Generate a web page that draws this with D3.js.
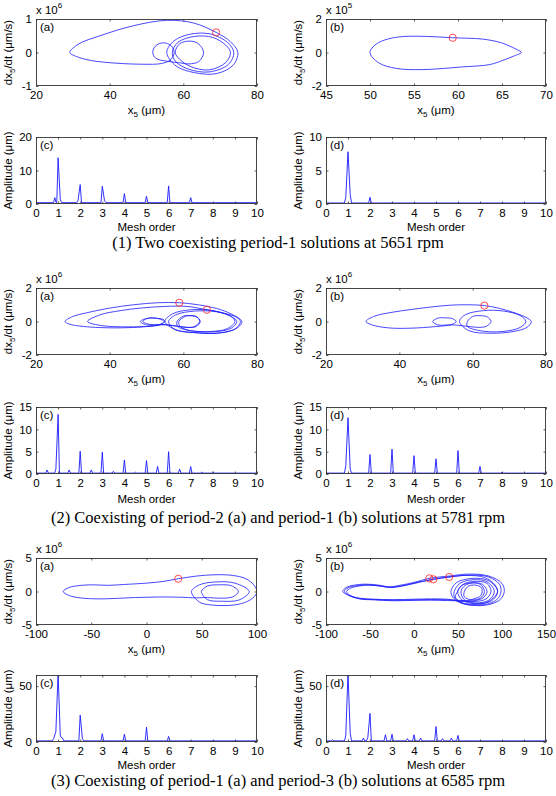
<!DOCTYPE html>
<html><head><meta charset="utf-8">
<script src="https://cdn.jsdelivr.net/npm/d3@7"></script>
<style>body{margin:0;background:#fff;}svg{display:block;}</style>
</head><body><svg id="c" width="556" height="796"></svg>
<script>
// ================= DATA =================
// Phase trajectories: [x5 (um), dx5/dt (in units of the exponent shown)]
const phase1a = [[29.2,0],[31.5,0.25],[37.4,0.5],[46.5,0.8],[55.5,0.96],[62.8,0.88],[68.9,0.6],[72.8,0.32],[74.8,0],[73.5,-0.38],[69,-0.63],[63,-0.6],[58,-0.4],
 [55.5,0],[57.5,0.35],[62,0.55],[67.5,0.55],[72,0.3],[73.7,0],[72.2,-0.36],[67,-0.58],[61.5,-0.5],[58,-0.28],
 [57,0],[58.5,0.3],[63,0.48],[68,0.45],[71.5,0.22],[72.8,0],[71.5,-0.3],[67,-0.52],[62,-0.42],[59,-0.2],
 [57.8,0],[59,0.26],[61.6,0.34],[64,0.27],[65.5,0],[64.2,-0.27],[61.5,-0.34],[58.5,-0.3],
 [55.5,-0.26],[52.5,-0.17],[51.7,0],[52.5,0.2],[54.6,0.29],[56.7,0.2],[57.5,0],[56.5,-0.22],[54,-0.33],
 [49,-0.35],[42,-0.32],[35,-0.24],[31,-0.12]];
const marks1a = [[68.9,0.6]];

const phase1b = [[50.0,0],[50.7,0.5],[52,0.8],[53.7,0.95],[56.4,0.96],[59.4,0.88],[62.8,0.8],[64.8,0.6],[65.8,0.4],[66.6,0.2],[67.2,0],[66.4,-0.2],[65.2,-0.45],[63.6,-0.72],[60.5,-0.86],[56,-1.02],[53,-0.95],[51,-0.62]];
const marks1b = [[59.4,0.88]];

const phase2a = [[27.9,0],[30,0.3],[33.8,0.52],[40,0.8],[46.5,1.0],[53,1.12],[58.9,1.12],[64,1.0],[69,0.78],[73,0.45],[75.9,0],[74.5,-0.4],[70,-0.68],[64,-0.68],[58,-0.5],
 [55,0],[57,0.45],[62,0.7],[68,0.65],[72.5,0.35],[74.5,0],[73,-0.4],[68,-0.62],[62,-0.55],[58.5,-0.3],
 [58.3,0],[60,0.32],[61.5,0.36],[63.5,0.3],[64.6,0],[63.5,-0.3],[61.5,-0.36],[59,-0.3],
 [55,-0.2],[50,-0.2],[48.3,0],[50,0.18],[52,0.2],[54.6,0.12],[55,0],[54,-0.15],[51,-0.28],
 [45,-0.32],[38,-0.25],[34,0],
 [37.4,0.4],[43,0.65],[48.3,0.8],[55,0.9],[61,0.9],[66.4,0.7],[71,0.5],[74.5,0.25],[75.5,0],[74,-0.45],[69,-0.7],[63,-0.66],[57.5,-0.45],
 [56,0],[58,0.4],[63,0.62],[69,0.58],[73,0.3],[74,0],[72,-0.42],[67,-0.6],[61,-0.5],[59,-0.25],
 [58.8,0],[60.5,0.3],[62,0.34],[63.8,0.25],[64.4,0],[63,-0.3],[61,-0.35],[59,-0.3],
 [55,-0.18],[51,-0.18],[49,0],[50.5,0.2],[53,0.18],[54.8,0],[53.5,-0.2],[50,-0.3],
 [42,-0.38],[33,-0.3],[29,-0.15]];
const marks2a = [[58.9,1.12],[66.4,0.7]];

const phase2b = [[30.9,0],[33,0.3],[38,0.55],[42.7,0.7],[48,0.85],[53.6,0.97],[58,1.0],[63.2,0.95],[67,0.8],[71,0.55],[74.5,0.25],[76,0],[74.8,-0.35],[71,-0.6],[65,-0.7],[59,-0.55],
 [56.4,0],[58,0.4],[63,0.65],[68.5,0.62],[73,0.35],[74.5,0],[73,-0.35],[68,-0.6],[62,-0.55],[58.5,-0.28],
 [58.6,0],[60,0.3],[62,0.35],[64,0.27],[65,0],[63.8,-0.28],[61.8,-0.35],[59,-0.3],
 [54.5,-0.2],[50.5,-0.2],[49.1,0],[50.5,0.2],[52.3,0.22],[54.5,0.17],[55.5,0],[54.3,-0.18],[50,-0.3],
 [43,-0.4],[37,-0.38],[32.5,-0.2]];
const marks2b = [[63.2,0.95]];

const phase3a = [[-75.4,0],[-70,0.6],[-60,0.9],[-49,1.0],[-35,0.92],[-20,1.05],[0,1.25],[15,1.5],[28.7,1.9],[45,2.3],[62,2.5],[78,2.4],[90,1.9],[97,1.0],[100,0],[96,-1.0],[86,-1.8],[72,-2.1],[58,-2.0],[48,-1.6],
 [40.7,0],[48,1.0],[62,1.42],[80,1.25],[93,0],[84,-1.25],[68,-1.45],[55,-1.2],
 [49.7,0],[55,0.8],[66,1.0],[77,0.85],[83.2,0],[78,-0.8],[66,-1.0],[55,-0.9],
 [45,-0.95],[30,-0.85],[10,-0.82],[-10,-0.9],[-30,-1.05],[-45,-1.1],[-60,-0.95],[-70,-0.6]];
const marks3a = [[28.7,1.9]];

const phase3b = [[-81,0],[-77,0.6],[-68,0.95],[-55,1.1],[-40,0.95],[-28,0.7],[-15,0.95],[0,1.35],[17.4,1.97],[40,2.3],[62,2.6],[85,2.3],[100,1.2],[102.6,0],[98,-1.2],[85,-1.95],[70,-2.1],[55,-1.8],[45,-1.0],
 [42,0],[48,1.3],[66,1.95],[85,1.6],[95,0],[88,-1.4],[70,-1.8],[55,-1.3],[49.6,0],[56,1.05],[68,1.5],[83,1.2],[87.5,0],[82,-1.1],[68,-1.5],[55,-1.35],
 [40,-1.25],[20,-1.2],[0,-1.25],[-24,-1.3],[-45,-1.2],[-62,-1.06],[-74,-0.6],
 [-79,0],[-75,0.55],[-66,0.85],[-54,1.0],[-40,0.85],[-27,0.62],[-12,0.9],[5,1.4],[22,1.82],[42,2.2],[63,2.45],[84,2.2],[97,1.1],[98.9,0],[95,-1.1],[84,-1.85],[68,-2.0],[54,-1.7],[46,-0.9],
 [45.8,0],[52,1.2],[67,1.75],[83,1.45],[91.3,0],[85,-1.3],[69,-1.7],[57,-1.2],[53.4,0],[58,0.9],[68,1.3],[78,1.05],[83,0],[78,-1.0],[66,-1.4],[54,-1.4],
 [38,-1.35],[20,-1.3],[0,-1.32],[-24,-1.38],[-45,-1.25],[-62,-1.1],[-73,-0.55],
 [-76.5,0],[-72,0.5],[-63,0.8],[-52,0.95],[-38,0.8],[-26,0.6],[-8,0.95],[10,1.5],[28,1.95],[40,2.17],[60,2.4],[80,2.1],[92,1.0],[95,0],[90,-1.0],[80,-1.75],[66,-1.9],[53,-1.6],[47,-0.8],
 [49.6,0],[54,0.9],[66,1.3],[76,1.0],[80,0],[76,-0.95],[66,-1.25],[57.2,-0.8],[57.2,0],[62,0.8],[70,0.95],[77,0.5],[76,-0.6],[68,-1.1],[56,-1.5],
 [38,-1.15],[20,-1.1],[0,-1.15],[-24,-1.22],[-45,-1.15],[-62,-1.0],[-75,-0.5]];
const marks3b = [[17.4,1.97],[22,1.82],[40,2.17]];

// Spectra: peaks [mesh order, amplitude (um)] and baseline level
const spec1c = [[0.85,1.9],[1,13.8],[1.1,1.3],[1.9,1.0],[2,5.8],[3,5.3],[3.1,1.0],[4,3.1],[5,2.3],[6,5.4],[7,1.9],[8,0.4]];
const base1c = 0.4;
const spec1d = [[0.9,1.0],[1,7.8],[1.1,1.4],[2,1.0],[3,0.2]];
const base1d = 0.15;
const spec2c = [[0.5,0.9],[0.9,1.1],[1,13.35],[1.5,0.9],[2,5.1],[2.5,0.9],[3,4.9],[3.5,0.6],[4,3.15],[4.5,0.4],[5,3.0],[5.5,1.7],[6,5.0],[6.5,1.1],[7,1.65],[7.5,0.4],[8,0.45]];
const base2c = 0.2;
const spec2d = [[0.9,1.9],[1,12.6],[1.1,1.1],[2,4.35],[3,5.55],[4,4.1],[5,3.4],[6,5.25],[7,1.7],[8,0.4]];
const base2d = 0.2;
const spec3c = [[0.8,3],[0.9,9.4],[1,62],[1.1,5],[1.2,3.5],[2,24],[2.1,3],[3,7.4],[4,7],[5,13.2],[6,5]];
const base3c = 1.0;
const spec3d = [[0.3,2],[0.9,5.9],[1,62],[1.1,8],[1.7,3.5],[1.9,4],[2,25.6],[2.7,6.5],[3,7],[3.7,3],[4,6.5],[4.3,3.5],[5,13.8],[5.3,3],[5.7,3.5],[6,5.9],[6.3,1.2]];
const base3d = 1.0;

// Tick values
const meshTicks = [0,1,2,3,4,5,6,7,8,9,10];
const xTicks1a = [20,40,60,80], yTicks1a = [-1,0,1];
const xTicks1b = [45,50,55,60,65,70], yTicks1b = [-2,0,2];
const xTicks2 = [20,40,60,80], yTicks2 = [-2,0,2];
const xTicks3a = [-100,-50,0,50,100], xTicks3b = [-100,-50,0,50,100,150], yTicks3 = [-5,0,5];
const yTicks1c = [0,10,20], yTicks1d = [0,5,10], yTicks2s = [0,5,10,15], yTicks3s = [0,50];

const captions = [
  "(1) Two coexisting period-1 solutions at 5651 rpm",
  "(2) Coexisting of period-2 (a) and period-1 (b) solutions at 5781 rpm",
  "(3) Coexisting of period-1 (a) and period-3 (b) solutions at 6585 rpm"
];

// ================= LAYOUT =================
const COLX = [[36,257],[326,546]];
const PH_TOP = [19,288,558], SP_TOP = [137,407,675], BH = 67;
const CAP_Y = [248,523,786];
const XL_OFF = [27,28.5,27];
const FONT = '"Liberation Sans", Arial, Helvetica, sans-serif';
const FS = 11.5, TK = 2.5, HW = 0.06;

const panels = [
 {type:'phase',row:0,col:0,lab:'(a)',data:phase1a,marks:marks1a,xDom:[20,80],yDom:[-1,1],xT:xTicks1a,yT:yTicks1a,exp:'6'},
 {type:'phase',row:0,col:1,lab:'(b)',data:phase1b,marks:marks1b,xDom:[45,70],yDom:[-2,2],xT:xTicks1b,yT:yTicks1b,exp:'5'},
 {type:'spec',row:0,col:0,lab:'(c)',data:spec1c,base:base1c,yDom:[0,20],yT:yTicks1c},
 {type:'spec',row:0,col:1,lab:'(d)',data:spec1d,base:base1d,yDom:[0,10],yT:yTicks1d},
 {type:'phase',row:1,col:0,lab:'(a)',data:phase2a,marks:marks2a,xDom:[20,80],yDom:[-2,2],xT:xTicks2,yT:yTicks2,exp:'6'},
 {type:'phase',row:1,col:1,lab:'(b)',data:phase2b,marks:marks2b,xDom:[20,80],yDom:[-2,2],xT:xTicks2,yT:yTicks2,exp:'6'},
 {type:'spec',row:1,col:0,lab:'(c)',data:spec2c,base:base2c,yDom:[0,15],yT:yTicks2s},
 {type:'spec',row:1,col:1,lab:'(d)',data:spec2d,base:base2d,yDom:[0,15],yT:yTicks2s},
 {type:'phase',row:2,col:0,lab:'(a)',data:phase3a,marks:marks3a,xDom:[-100,100],yDom:[-5,5],xT:xTicks3a,yT:yTicks3,exp:'6'},
 {type:'phase',row:2,col:1,lab:'(b)',data:phase3b,marks:marks3b,xDom:[-100,150],yDom:[-5,5],xT:xTicks3b,yT:yTicks3,exp:'6'},
 {type:'spec',row:2,col:0,lab:'(c)',data:spec3c,base:base3c,yDom:[0,60],yT:yTicks3s},
 {type:'spec',row:2,col:1,lab:'(d)',data:spec3d,base:base3d,yDom:[0,60],yT:yTicks3s}
];

function specPoints(peaks, base){
  const p = peaks.slice().sort((a,b)=>a[0]-b[0]);
  const pts = [[0,base]];
  p.forEach((d,i)=>{
    const prev=p[i-1], next=p[i+1];
    if(!prev || d[0]-prev[0] > 2*HW) pts.push([d[0]-HW,base]);
    pts.push(d);
    if(!next || next[0]-d[0] > 2*HW) pts.push([d[0]+HW,base]);
  });
  pts.push([10,base]);
  return pts;
}

const svg = d3.select('#c');
const defs = svg.append('defs');

function styleAxis(g){
  g.attr('font-size',FS).attr('font-family',FONT);
  g.select('.domain').remove();
  g.selectAll('.tick line').attr('stroke','#333').attr('stroke-width',0.8);
  g.selectAll('.tick text').attr('fill','#000');
}

panels.forEach((p,i)=>{
  const [x0,x1] = COLX[p.col];
  const y0 = (p.type==='phase'?PH_TOP:SP_TOP)[p.row], y1 = y0+BH;
  const xDom = p.type==='phase'?p.xDom:[0,10];
  const xT = p.type==='phase'?p.xT:meshTicks;
  const xs = d3.scaleLinear().domain(xDom).range([x0,x1]);
  const ys = d3.scaleLinear().domain(p.yDom).range([y1,y0]);
  const g = svg.append('g');
  const cid = 'clip'+i;
  defs.append('clipPath').attr('id',cid).append('rect')
    .attr('x',x0).attr('y',y0).attr('width',x1-x0).attr('height',BH);

  // data
  if(p.type==='phase'){
    const line = d3.line().x(d=>xs(d[0])).y(d=>ys(d[1])).curve(d3.curveCatmullRomClosed.alpha(0.5));
    g.append('path').attr('d',line(p.data)).attr('fill','none')
      .attr('stroke','#1a1aff').attr('stroke-width',0.8).attr('clip-path',`url(#${cid})`);
    g.selectAll('circle.m').data(p.marks).join('circle').attr('class','m')
      .attr('cx',d=>xs(d[0])).attr('cy',d=>ys(d[1])).attr('r',3.6)
      .attr('fill','none').attr('stroke','#ff2020').attr('stroke-width',0.8);
  } else {
    const line = d3.line().x(d=>xs(d[0])).y(d=>ys(d[1]));
    g.append('path').attr('d',line(specPoints(p.data,p.base))).attr('fill','none')
      .attr('stroke','#1a1aff').attr('stroke-width',0.9).attr('clip-path',`url(#${cid})`);
  }

  // axes
  g.append('g').attr('transform',`translate(0,${y1})`)
    .call(d3.axisBottom(xs).tickValues(xT).tickSize(-TK).tickPadding(5.3).tickFormat(d=>String(d))).call(styleAxis);
  g.append('g').attr('transform',`translate(0,${y0})`)
    .call(d3.axisTop(xs).tickValues(xT).tickSize(-TK).tickFormat('')).call(styleAxis);
  g.append('g').attr('transform',`translate(${x0},0)`)
    .call(d3.axisLeft(ys).tickValues(p.yT).tickSize(-TK).tickPadding(4).tickFormat(d=>String(d))).call(styleAxis);
  g.append('g').attr('transform',`translate(${x1},0)`)
    .call(d3.axisRight(ys).tickValues(p.yT).tickSize(-TK).tickFormat('')).call(styleAxis);

  // box
  g.append('rect').attr('x',x0+0.5).attr('y',y0+0.5).attr('width',x1-x0-1).attr('height',BH-1)
    .attr('fill','none').attr('stroke','#333').attr('stroke-width',0.9);

  // panel label
  g.append('text').attr('x',x0+4).attr('y',y0+11.5).attr('font-family',FONT).attr('font-size',FS).text(p.lab);

  // x label
  const xl = g.append('text').attr('x',(x0+x1)/2).attr('y',y1+(p.type==='phase'?27.5:XL_OFF[p.row])).attr('text-anchor','middle')
    .attr('font-family',FONT).attr('font-size',FS);
  if(p.type==='phase'){
    xl.append('tspan').text('x');
    xl.append('tspan').attr('dy',3).attr('font-size',8).text('5');
    xl.append('tspan').attr('dy',-3).text(' (μm)');
  } else xl.text('Mesh order');

  // y label
  const ylx = p.col===0 ? 12 : 301.5;
  const yl = g.append('text').attr('transform',`translate(${ylx},${(y0+y1)/2}) rotate(-90)`)
    .attr('text-anchor','middle').attr('font-family',FONT).attr('font-size',FS);
  if(p.type==='phase'){
    yl.append('tspan').text('dx');
    yl.append('tspan').attr('dy',3).attr('font-size',8).text('5');
    yl.append('tspan').attr('dy',-3).text('/dt (μm/s)');
    // exponent
    const ex = g.append('text').attr('x',x0).attr('y',y0-5).attr('font-family',FONT).attr('font-size',FS);
    ex.append('tspan').text('x 10');
    ex.append('tspan').attr('dy',-6).attr('font-size',8).text(p.exp);
  } else yl.text('Amplitude (μm)');
});

svg.selectAll('text.cap').data(captions).join('text').attr('class','cap')
  .attr('x',278).attr('y',(d,i)=>CAP_Y[i]).attr('text-anchor','middle')
  .attr('font-family','"Liberation Serif", "Times New Roman", serif').attr('font-size',16.5).text(d=>d);
</script></body></html>
